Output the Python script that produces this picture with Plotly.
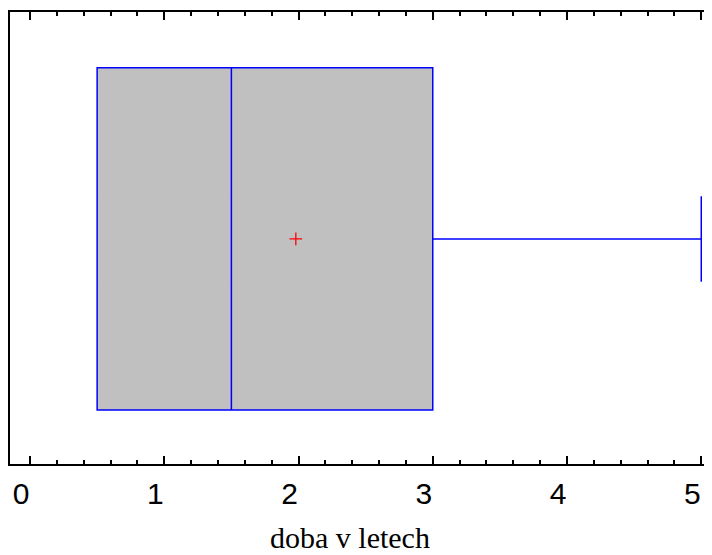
import plotly.graph_objects as go

# data
variable_name = "doba v letech"
q1 = [0.5]
median = [1.5]
q3 = [3.0]
lower_fence = [0.5]
upper_fence = [5.0]
mean_value = [1.98]
tick_values = [0, 1, 2, 3, 4, 5]
tick_labels = ["0", "1", "2", "3", "4", "5"]

fig = go.Figure()
fig.add_trace(go.Box(
    y=[0], q1=q1, median=median, q3=q3,
    lowerfence=lower_fence, upperfence=upper_fence,
    orientation="h", boxpoints=False,
    fillcolor="#C0C0C0", line=dict(color="#0000FF", width=1.5),
    width=0.757, whiskerwidth=0.25, showlegend=False, hoverinfo="skip",
))
fig.add_trace(go.Scatter(
    x=mean_value, y=[0], mode="markers",
    marker=dict(symbol="cross-thin", size=9, color="#FF0000",
                line=dict(color="#FF0000", width=1.3)),
    showlegend=False, hoverinfo="skip",
))

fig.add_annotation(
    text=variable_name, xref="paper", yref="paper", x=0.484, y=0,
    xanchor="center", yanchor="middle", yshift=-73, showarrow=False,
    borderpad=0,
    font=dict(family="Liberation Serif, Times New Roman", size=30, color="black"),
)

# the page body adds an 8px offset, so the figure is sized to compensate
fig.update_layout(
    width=704, height=547,
    margin=dict(l=2, r=0, t=4, b=91),
    paper_bgcolor="white", plot_bgcolor="white",
    xaxis=dict(
        range=[-0.149, 5.08], showgrid=False, zeroline=False,
        showline=True, linecolor="black", linewidth=1.5, mirror="ticks",
        ticks="inside", ticklen=8, tickwidth=2, tickcolor="black",
        tickvals=tick_values, ticktext=tick_labels,
        tickfont=dict(family="Liberation Sans, Arial", size=30, color="black"),
        ticklabelshift=-9, ticklabelstandoff=2,
        minor=dict(ticks="inside", dtick=0.2, ticklen=4, tickwidth=1.5, tickcolor="black"),
    ),
    yaxis=dict(
        range=[-0.498, 0.502], showgrid=False, zeroline=False,
        showline=True, linecolor="black", linewidth=1.5, mirror=False,
        showticklabels=False, ticks="",
    ),
)

fig.write_html("out.html")
